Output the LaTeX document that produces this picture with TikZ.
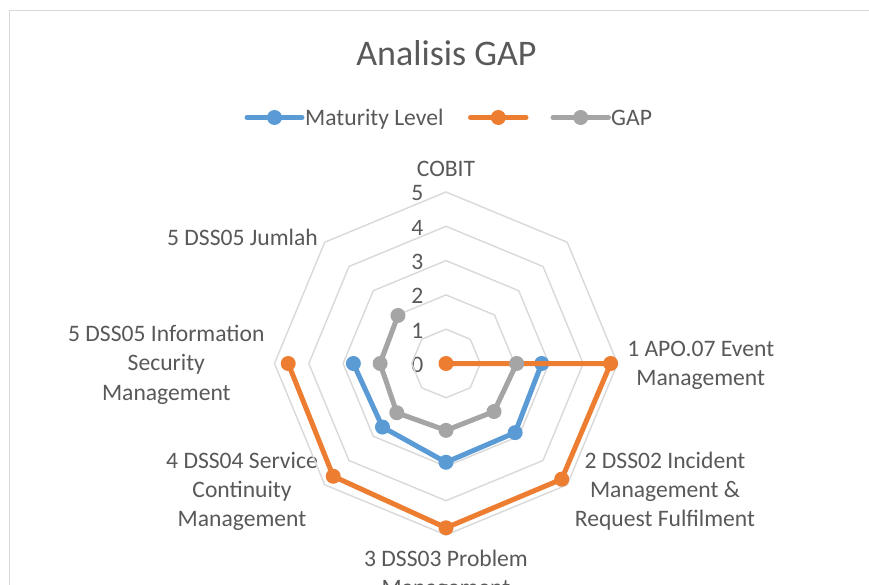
\documentclass[tikz,border=0pt]{standalone}
\usepackage{fontspec}
\setmainfont{Carlito}
\definecolor{txt}{HTML}{595959}
\definecolor{gridc}{HTML}{D9D9D9}
\definecolor{sblue}{HTML}{5B9BD5}
\definecolor{sorange}{HTML}{ED7D31}
\definecolor{sgray}{HTML}{A5A5A5}
\begin{document}
\begin{tikzpicture}[x=1pt,y=-1pt,
  lbl/.style={text=txt,inner sep=0pt,anchor=base,align=center,font=\fontsize{23.6}{29.2}\selectfont},
  tick/.style={text=txt,inner sep=0pt,anchor=base east,font=\fontsize{23.6}{29.2}\selectfont},
  ring/.style={draw=gridc,line width=1.4pt,line join=miter},
  series/.style={line width=5pt,line join=round,line cap=round},
  mk/.style={radius=7.5}]
\useasboundingbox (0,0) rectangle (869,585);
\fill[white] (0,0) rectangle (869,585);
\draw[gridc,line width=1.5pt] (9.5,590) -- (9.5,10.5) -- (875,10.5);

% title
\node[lbl,font=\fontsize{36}{40}\selectfont] (title) at (446.5,65.7) {Analisis GAP};

% legend
\coordinate (lb1) at (247,117.5); \coordinate (lb2) at (302,117.5); \coordinate (lbm) at (274.5,117.5);
\coordinate (lo1) at (470.5,117.5); \coordinate (lo2) at (526,117.5); \coordinate (lom) at (498.3,117.5);
\coordinate (lg1) at (553,117.5); \coordinate (lg2) at (608.5,117.5); \coordinate (lgm) at (580.7,117.5);
\draw[series,sblue] (lb1) -- (lb2); \fill[sblue] (lbm) circle[mk];
\draw[series,sorange] (lo1) -- (lo2); \fill[sorange] (lom) circle[mk];
\draw[series,sgray] (lg1) -- (lg2); \fill[sgray] (lgm) circle[mk];
\node[lbl,anchor=base west] (legml) at (305,125.3) {Maturity Level};
\node[lbl,anchor=base west] (leggap) at (611,125.3) {GAP};

% tick labels
\foreach \k in {0,...,5}{
  \node[tick] (t\k) at (423.5,{363.5-34.3*\k+9}) {\k};
}

% category labels (anchor = baseline of last line)
\node[lbl] (cat0) at (446,176.7) {COBIT};
\node[lbl] (cat2) at (700.7,385.9) {1 APO.07 Event\\Management};
\node[lbl] (cat3) at (665,526.7) {2 DSS02 Incident\\Management \&\\Request Fulfilment};
\node[lbl] (cat4) at (446,595.2) {3 DSS03 Problem\\Management};
\node[lbl] (cat5) at (242,526.7) {4 DSS04 Service\\Continuity\\Management};
\node[lbl] (cat6) at (166.3,400.1) {5 DSS05 Information\\Security\\Management};
\node[lbl] (cat7) at (242.5,245) {5 DSS05 Jumlah};

\begin{scope}[shift={(446,363.5)},x=34.3pt,y=-34.3pt]
  % grid rings (y points down: angle grows clockwise, top = -90)
  \foreach \r in {1,...,5}{
    \draw[ring] (-90:\r) \foreach \k in {1,...,7}{ -- ({-90+45*\k}:\r)} -- cycle;
  }
  % data points
  \coordinate (b2) at (0:2.79);  \coordinate (b3) at (45:2.85); \coordinate (b4) at (90:2.88);
  \coordinate (b5) at (135:2.62); \coordinate (b6) at (180:2.70);
  \coordinate (o0) at (0,0); \coordinate (o2) at (0:4.80); \coordinate (o3) at (45:4.77);
  \coordinate (o4) at (90:4.79); \coordinate (o5) at (135:4.65); \coordinate (o6) at (180:4.60);
  \coordinate (g2) at (0:2.06); \coordinate (g3) at (45:1.98); \coordinate (g4) at (90:1.95);
  \coordinate (g5) at (135:2.03); \coordinate (g6) at (180:1.92); \coordinate (g7) at (225:1.98);
\end{scope}

% Maturity Level series
\draw[series,sblue] (b2) -- (b3) -- (b4) -- (b5) -- (b6);
\foreach \p in {b2,b3,b4,b5,b6} \fill[sblue] (\p) circle[mk];
% orange series
\draw[series,sorange] (o0) -- (o2) -- (o3) -- (o4) -- (o5) -- (o6);
\foreach \p in {o0,o2,o3,o4,o5,o6} \fill[sorange] (\p) circle[mk];
% GAP series
\draw[series,sgray] (g7) -- (g6) -- (g5) -- (g4) -- (g3) -- (g2);
\foreach \p in {g2,g3,g4,g5,g6,g7} \fill[sgray] (\p) circle[mk];
\end{tikzpicture}
\end{document}
